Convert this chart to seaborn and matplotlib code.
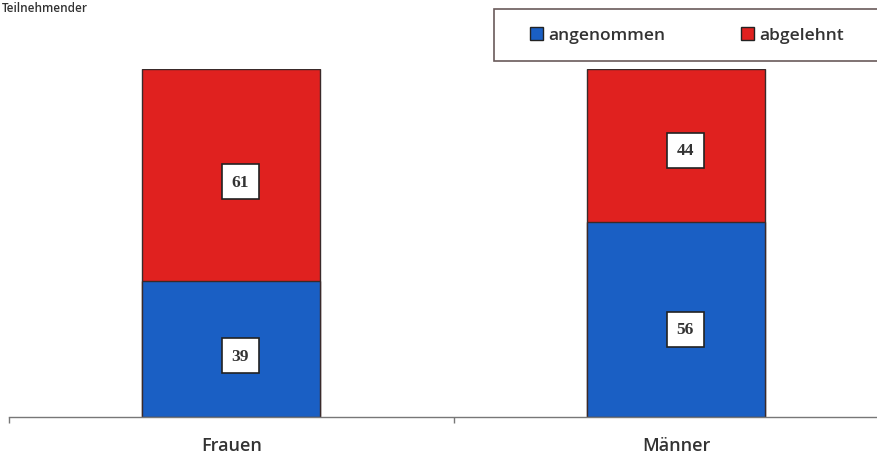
import matplotlib
matplotlib.use("Agg")
import matplotlib.pyplot as plt
import seaborn as sns
import pandas as pd
from matplotlib.patches import Patch, Rectangle

categories = ["Frauen", "Männer"]
angenommen = [39, 56]
abgelehnt = [61, 44]
series_names = ["angenommen", "abgelehnt"]

blue = "#1a5fc4"
red = "#e0211f"

sns.set_theme(style="white")
plt.rcParams["font.family"] = ["Open Sans", "DejaVu Sans"]

df = pd.DataFrame({"cat": categories, "ang": angenommen, "abg": abgelehnt})
df["total"] = df["ang"] + df["abg"]

fig = plt.figure(figsize=(8.78, 4.56), dpi=100)
ax = fig.add_axes([9 / 878, 38 / 456, 869 / 878, 348 / 456])

sns.barplot(data=df, x="cat", y="total", color=red, width=0.40, ax=ax,
            saturation=1, edgecolor="#3a2a2a", linewidth=1.0)
sns.barplot(data=df, x="cat", y="ang", color=blue, width=0.40, ax=ax,
            saturation=1, edgecolor="#3a2a2a", linewidth=1.0)

ax.set_xlim(-0.5, 1.453)
ax.set_ylim(0, 100)
for s in ["top", "right", "left"]:
    ax.spines[s].set_visible(False)
ax.spines["bottom"].set_color("#777777")
ax.spines["bottom"].set_linewidth(1.0)
ax.set_yticks([])
ax.set_xticks([-0.5, 0.5], minor=True)
ax.set_xticks([0, 1])
ax.set_xticklabels(categories, fontsize=13, color="#333333", fontweight="semibold")
ax.tick_params(axis="x", which="major", length=0, pad=14)
ax.tick_params(axis="x", which="minor", length=4, color="#777777", width=1, direction="out", bottom=True)
ax.set_xlabel("")
ax.set_ylabel("")

for i in range(len(categories)):
    a = angenommen[i]
    b = abgelehnt[i]
    for y, v in [(a * 0.45, a), (a + b * 0.47, b)]:
        ax.text(i + 0.02, y, str(v), ha="center", va="center", fontsize=12.5,
                fontweight="bold", color="#333333", family=["Liberation Serif", "DejaVu Serif"],
                bbox=dict(boxstyle="square,pad=0.55", facecolor="white", edgecolor="#222222", linewidth=1.2))

fig.text(2 / 878, 1 - 9 / 456, "Teilnehmender", fontsize=8.5, color="#333333", va="center", ha="left",
         fontweight="semibold")

# legend frame
fig.patches.append(Rectangle((494 / 878, 1 - 62 / 456), 390 / 878, 52 / 456,
                             transform=fig.transFigure, facecolor="white",
                             edgecolor="#6a5a5a", linewidth=1.2, zorder=0))
handles = [Patch(facecolor=blue, edgecolor="#222222", label=series_names[0]),
           Patch(facecolor=red, edgecolor="#222222", label=series_names[1])]
leg = fig.legend(handles=handles, ncol=2, loc="center",
                 bbox_to_anchor=(687 / 878, 1 - 36 / 456),
                 frameon=False, handlelength=0.75, handleheight=0.75,
                 handletextpad=0.3, borderaxespad=0, borderpad=0, columnspacing=4.4,
                 prop={"weight": "semibold", "size": 12.5})
for t in leg.get_texts():
    t.set_color("#333333")

fig.savefig("out.png", dpi=100)
